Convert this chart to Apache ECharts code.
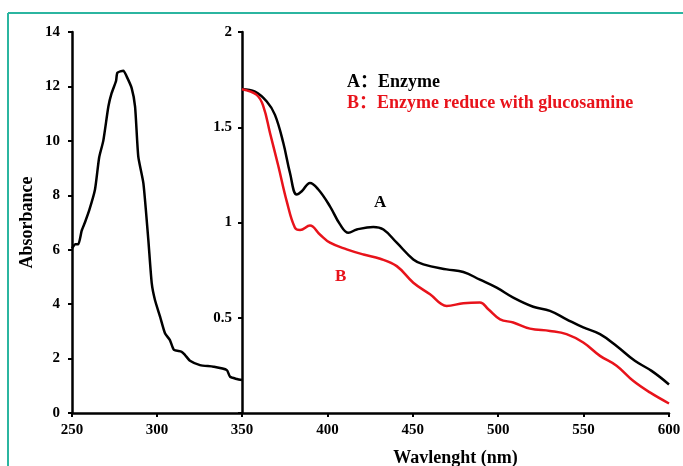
<!DOCTYPE html>
<html>
<head>
<meta charset="utf-8">
<script src="https://cdn.jsdelivr.net/npm/echarts@6/dist/echarts.min.js"></script>
<style>
  html, body { margin: 0; padding: 0; background: #fff; }
  #chart { width: 683px; height: 466px; }
</style>
</head>
<body>
<div id="chart"></div>
<script>
// left panel: 250-350 nm, absorbance 0-14
const leftWl = [250, 252, 253.7, 255.7, 257.6, 260.2, 263.5, 266, 268.4, 271.4, 273.3, 275.9, 276.7, 280.2, 282.2, 285.1, 287.1, 289, 292, 294.9, 296.9, 298.8, 301.8, 304.7, 307.6, 310, 314.5, 316.5, 319.4, 325.3, 333.2, 341, 343, 347, 350]
const leftAbs = [6.05, 6.2, 6.2, 6.7, 7.0, 7.46, 8.2, 9.4, 10.0, 11.26, 11.75, 12.2, 12.5, 12.58, 12.36, 11.94, 11.26, 9.42, 8.44, 6.36, 4.77, 4.15, 3.54, 2.93, 2.68, 2.32, 2.25, 2.13, 1.92, 1.76, 1.70, 1.58, 1.33, 1.25, 1.21]

// right panel: 350-600 nm, absorbance 0-2
const wlA = [350, 357.6, 364.5, 369.3, 374.2, 378.1, 382, 385, 389.8, 394.7, 401.5, 407.4, 412.3, 417.2, 426.9, 432.8, 440.6, 450.3, 456.2, 469.8, 479.6, 489.3, 499.1, 508.8, 520.5, 530.3, 540, 549.8, 559.6, 569.3, 580, 589.8, 600]
const absA = [1.70, 1.687, 1.635, 1.565, 1.417, 1.26, 1.147, 1.164, 1.208, 1.173, 1.085, 0.99, 0.946, 0.963, 0.977, 0.963, 0.894, 0.806, 0.78, 0.754, 0.74, 0.70, 0.658, 0.606, 0.558, 0.536, 0.492, 0.449, 0.414, 0.352, 0.274, 0.221, 0.15]
const wlB = [350, 358.6, 362.5, 366.4, 371.3, 376.2, 381, 384, 389.8, 395.6, 401.5, 411.3, 421.1, 430.9, 440.6, 450.3, 460.1, 469.8, 479.6, 489.3, 494.2, 501.1, 508.8, 518.6, 530.3, 540, 549.8, 559.6, 569.3, 579, 588.8, 600]
const absB = [1.70, 1.67, 1.61, 1.47, 1.295, 1.111, 0.972, 0.96, 0.984, 0.937, 0.894, 0.859, 0.832, 0.81, 0.771, 0.684, 0.623, 0.562, 0.576, 0.58, 0.545, 0.492, 0.475, 0.443, 0.431, 0.414, 0.37, 0.30, 0.248, 0.169, 0.108, 0.05]

const leftTicks = { min: 0, max: 14, interval: 2 }
const rightTicks = { min: 0, max: 2, interval: 0.5 }

const pairs = (xs, ys) => xs.map((x, i) => [x, ys[i]])

const font = 'Liberation Serif'
const red = '#e8131b'
const teal = '#2bb5a0'

const axisBase = {
  axisLine: { lineStyle: { color: '#000', width: 2.5 } },
  axisTick: { inside: false, length: 4, lineStyle: { color: '#000', width: 2 } },
  splitLine: { show: false },
  axisLabel: { color: '#000', fontFamily: font, fontWeight: 'bold', fontSize: 15 }
}

const chart = echarts.init(document.getElementById('chart'))
chart.setOption({
  animation: false,
  backgroundColor: '#fff',
  grid: [
    { left: 72, top: 32, width: 170, height: 381, outerBoundsMode: 'none' },
    { left: 242, top: 32, width: 427, height: 381, outerBoundsMode: 'none' }
  ],
  xAxis: [
    Object.assign({}, axisBase, {
      type: 'value', gridIndex: 0, min: 250, max: 350, interval: 50,
      axisLabel: Object.assign({}, axisBase.axisLabel, { margin: 10 })
    }),
    Object.assign({}, axisBase, {
      type: 'value', gridIndex: 1, min: 350, max: 600, interval: 50,
      name: 'Wavlenght (nm)', nameLocation: 'middle', nameGap: 36,
      nameTextStyle: { color: '#000', fontFamily: font, fontWeight: 'bold', fontSize: 18 },
      axisLabel: Object.assign({}, axisBase.axisLabel, {
        margin: 10,
        formatter: v => (v === 350 ? '' : String(v))
      })
    })
  ],
  yAxis: [
    Object.assign({}, axisBase, {
      type: 'value', gridIndex: 0, min: leftTicks.min, max: leftTicks.max, interval: leftTicks.interval,
      name: 'Absorbance', nameLocation: 'middle', nameGap: 36, nameRotate: 90,
      nameTextStyle: { color: '#000', fontFamily: font, fontWeight: 'bold', fontSize: 18 },
      axisLabel: Object.assign({}, axisBase.axisLabel, { margin: 12 })
    }),
    Object.assign({}, axisBase, {
      type: 'value', gridIndex: 1, min: rightTicks.min, max: rightTicks.max, interval: rightTicks.interval,
      axisLabel: Object.assign({}, axisBase.axisLabel, {
        margin: 10,
        formatter: v => (v === 0 ? '' : String(v))
      })
    })
  ],
  series: [
    {
      type: 'line', xAxisIndex: 0, yAxisIndex: 0, data: pairs(leftWl, leftAbs),
      showSymbol: false, smooth: 0.2, lineStyle: { color: '#000', width: 2.5 }
    },
    {
      type: 'line', xAxisIndex: 1, yAxisIndex: 1, data: pairs(wlA, absA),
      showSymbol: false, smooth: 0.4, lineStyle: { color: '#000', width: 2.5 }
    },
    {
      type: 'line', xAxisIndex: 1, yAxisIndex: 1, data: pairs(wlB, absB),
      showSymbol: false, smooth: 0.4, lineStyle: { color: red, width: 2.5 }
    }
  ],
  graphic: [
    { type: 'line', shape: { x1: 8, y1: 13, x2: 683, y2: 13 }, style: { stroke: teal, lineWidth: 2 } },
    { type: 'line', shape: { x1: 8, y1: 13, x2: 8, y2: 466 }, style: { stroke: teal, lineWidth: 2 } },
    {
      type: 'text', left: 347, top: 73,
      style: { text: 'A：Enzyme', fill: '#000', font: 'bold 18px "Liberation Serif", "Noto Sans CJK SC"' }
    },
    {
      type: 'text', left: 347, top: 94,
      style: { text: 'B：Enzyme reduce with glucosamine', fill: red, font: 'bold 18px "Liberation Serif", "Noto Sans CJK SC"' }
    },
    {
      type: 'text', left: 374, top: 194,
      style: { text: 'A', fill: '#000', font: 'bold 17px "Liberation Serif"' }
    },
    {
      type: 'text', left: 335, top: 268,
      style: { text: 'B', fill: red, font: 'bold 17px "Liberation Serif"' }
    }
  ]
})
</script>
</body>
</html>
